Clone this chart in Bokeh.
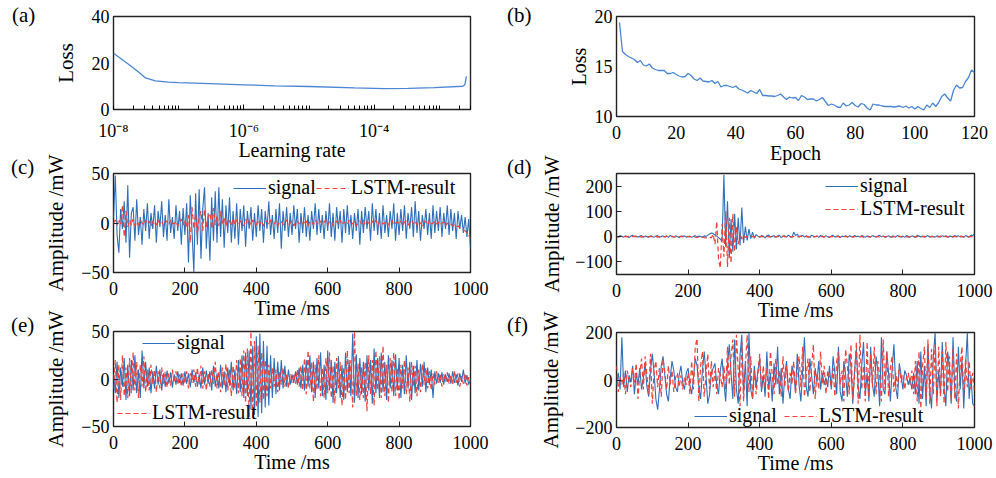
from bokeh.plotting import figure
from bokeh.layouts import column, row
from bokeh.models import (Range1d, FixedTicker, CustomJSTickFormatter, Div,
                          Legend, LegendItem)
from bokeh.embed import file_html
from bokeh.resources import INLINE

FONT = "Liberation Serif"
BLUE_LOSS = "#4a86d4"
BLUE = "#2e6fba"
RED = "#f0403a"

# ---------------- data ----------------
a_lr = [1e-8, 1.7e-8, 2.5e-8, 3.1e-8, 4.4e-8, 7e-8, 1e-7, 3e-7, 1e-6, 3e-6,
        1e-5, 5e-5, 1.4e-4, 3.3e-4, 8.3e-4, 2.3e-3, 2.45e-3, 2.6e-3]
a_loss = [24.2, 19.5, 15.8, 13.6, 12.3, 11.8, 11.6, 11.1, 10.6, 10.2,
          9.9, 9.3, 9.0, 9.1, 9.4, 10.0, 10.6, 14.2]

b_epoch = list(range(1, 121))
b_loss = [19.4, 16.5, 16.2, 16.0, 15.85, 15.7, 15.4, 15.6, 15.15, 15.05,
          15.25, 14.85, 14.7, 14.6, 14.6, 14.6, 14.3, 14.3, 14.4, 14.2,
          14.05, 13.95, 14.0, 14.3, 14.1, 13.75, 13.6, 13.85, 13.55, 13.5,
          13.45, 13.6, 13.3, 13.5, 12.95, 13.1, 13.1, 13.0, 12.9, 13.05,
          12.75, 12.65, 12.5, 12.35, 12.6, 12.45, 12.3, 12.7, 12.1, 12.1,
          12.05, 12.05, 12.0, 12.1, 12.25, 11.95, 11.7, 11.95, 11.85, 11.9,
          11.6, 12.1, 11.95, 11.7, 11.75, 11.75, 11.55, 11.7, 11.9, 11.5,
          11.1, 11.25, 11.15, 10.95, 10.9, 11.35, 11.05, 11.15, 11.4, 11.1,
          10.95, 11.3, 11.2, 10.85, 10.65, 11.25, 11.15, 11.15, 11.05, 11.0,
          11.0, 11.0, 10.95, 11.0, 11.05, 10.9, 11.05, 10.85, 11.0, 10.75,
          11.0, 10.8, 10.65, 11.15, 10.9, 11.35, 11.0, 11.4, 12.0, 12.25,
          11.85, 11.55, 12.65, 13.15, 12.85, 12.9, 13.5, 13.9, 14.65, 14.4]

t_ms = list(range(0, 1001, 5))

c_signal = [5, 48, -12, -30, 14, -6, 22, -20, 38, -35, 10, 16, -18, 24, -12, 6, -22, 14, -8, 20,
            -16, 10, -6, 18, -20, 12, -4, 22, -14, 8, -18, 24, -10, 6, -16, 18, -8, 12, -22, 15,
            -12, 20, -40, 28, -8, -50, 30, -22, 34, -36, 14, 36, -26, 10, -38, 26, -18, 32, -20, 36,
            -14, 24, -25, 18, -10, 26, -20, 12, -16, 20, -22, 14, -8, 18, -24, 12, -6, 16, -18, 10,
            -14, 18, -8, 14, -20, 12, -6, 22, -12, 8, -16, 14, -10, 20, -26, 12, -8, 16, -14, 10,
            -12, 18, -6, 14, -20, 10, -10, 16, -14, 8, -18, 12, -6, 20, -12, 14, -10, 8, -16, 12,
            -8, 20, -14, 10, -18, 16, -6, 12, -20, 14, -10, 18, -12, 8, -16, 10, -8, 14, -22, 12,
            -10, 16, -6, 12, -18, 20, -8, 14, -12, 10, -16, 18, -10, 8, -14, 12, -6, 20, -18, 10,
            -12, 14, -8, 18, -16, 10, -6, 16, -14, 22, -10, 12, -18, 8, -6, 14, -12, 10, -16, 18,
            -10, 12, -8, 16, -14, 10, -6, 18, -12, 14, -8, 10, -16, 12, -6, 8, -10, 6, -14, 4,
            -26]
c_lstm = [0, 3, -2, 4, -1, 18, -14, 12, -4, 3, -2, 4, -3, 1, -2, 3, 0, -2, 3, -1,
          2, -3, 2, 0, -2, 3, -1, 2, -3, 1, 2, -2, 3, 0, -1, 2, -3, 1, 4, -2,
          3, -4, 8, -20, 16, -6, 10, -12, 6, 12, -8, 14, -4, 6, 10, -6, 15, -2, 8, -3,
          12, -2, 6, -3, 4, 2, -3, 5, -1, 3, -2, 2, 0, -3, 4, -1, 2, -2, 3, 0,
          -2, 3, -1, 2, -3, 1, 2, -2, 3, 0, -1, 2, -3, 1, 2, -2, 1, 3, -2, 0,
          2, -3, 1, 2, -1, 3, -2, 0, 2, -3, 1, 2, -2, 3, 0, -1, 2, -2, 1, 3,
          -2, 1, 2, -3, 0, 2, -1, 3, -2, 1, 0, -2, 3, 1, -1, 2, -3, 0, 2, -1,
          3, -2, 1, 0, -2, 2, -1, 3, -3, 1, 2, -1, 0, 2, -2, 1, 3, -2, 0, 1,
          -1, 2, -3, 1, 2, -2, 0, 3, -1, 2, -2, 1, 0, -3, 2, 1, -2, 3, -1, 0,
          2, -1, 1, -2, 0, 1, -3, 0, -2, -1, -3, -2, -4, -3, -5, -6, -7, -8, -10, -12,
          -16]

d_signal = [2, -3, 4, 1, -2, 3, 0, -4, 2, 5, -1, 3, -2, 1, 4, -3, 2, 0, -2, 3,
            1, -3, 2, 4, -2, 0, 3, -1, 2, -3, 5, 1, -2, 3, 0, -4, 2, 1, 3, -2,
            0, 2, -3, 1, 4, -1, 2, 0, -2, 3, 1, 5, 10, 14, 12, 6, 2, -4, -10, -18,
            245, -40, 140, -85, 70, -60, 90, -50, 75, -35, 115, -25, 40, -15, 30, -8, 18, -6, 8, 2,
            -3, 4, 2, -5, 3, 6, -2, 1, 4, -3, 2, 5, -4, 1, 3, -2, 6, 0, -3, 18,
            4, 10, -3, 2, 5, -2, 3, 0, -4, 6, 2, -1, 3, -3, 5, 1, -2, 4, 0, -3,
            2, 5, -2, 1, 3, -4, 2, 0, 4, -2, 3, 1, -3, 5, 0, 2, -2, 4, 1, -3,
            3, 0, -2, 4, 1, -3, 2, 5, -1, 3, -2, 0, 4, -3, 2, 1, -2, 5, 0, -1,
            2, -3, 4, 1, -2, 3, 0, -4, 5, 2, -1, 3, -2, 1, 4, -3, 2, 0, -2, 3,
            1, -2, 3, 0, 4, -3, 2, 1, -2, 5, 0, 3, -1, 2, -3, 4, 1, -2, 6, 3,
            12]
d_lstm = [0, -1, 1, 0, -2, 1, 0, 1, -1, 0, 2, -1, 0, 1, -2, 0, 1, -1, 0, 1,
          -1, 0, 1, -2, 0, 1, 0, -1, 2, 0, -1, 1, 0, -2, 1, 0, 1, -1, 0, 1,
          0, -1, 1, 0, -2, -3, -1, 0, -2, -4, -5, -3, -1, -5, 10, -30, 60, -90, -125, 50,
          -80, 100, -120, 75, -105, 90, -60, 40, -30, 15, -10, 5, -3, 1, 0, -1, 1, 0, -2, 1,
          0, 1, -1, 0, 2, -1, 0, 1, -2, 0, 1, 0, -1, 2, 0, -1, 1, 0, -2, 1,
          0, -1, 1, 2, -1, 0, 1, -2, 0, 1, -1, 0, 2, -1, 0, 1, -1, 0, 1, -2,
          1, 0, -1, 1, 0, -2, 1, 0, 1, -1, 0, 2, -1, 0, 1, -1, 0, 1, -2, 0,
          1, -1, 0, 2, -1, 0, 1, -2, 0, 1, -1, 0, 1, 0, -2, 1, 0, -1, 2, 0,
          -1, 1, 0, -2, 1, 0, 1, -1, 0, 2, -1, 0, 1, -2, 0, 1, -1, 0, 1, 0,
          -1, 2, 0, -1, 1, 0, -2, 1, 0, 1, -1, 0, 2, -1, 0, 1, -2, 0, 1, -1,
          0]

e_signal = [5, -15, 18, -20, 12, -8, 22, -22, 15, -18, 20, -12, 25, -15, 10, -20, 30, -10, 18, -8,
            12, -15, 8, -10, 14, -6, 10, -12, 6, -8, 9, -5, 7, -9, 5, -6, 8, -4, 6, -7,
            8, -5, 6, -9, 10, -4, 7, -8, 5, -10, 12, -6, 9, -5, 8, -12, 14, -8, 6, -10,
            15, -10, 8, -14, 12, -7, 18, -12, 10, -16, 20, -14, 25, -20, 28, -18, 30, -32, 35, -38,
            45, -40, 48, -36, 40, -30, 35, -28, 25, -20, 22, -16, 18, -12, 20, -10, 14, -8, 10, -6,
            5, -4, 8, -6, 12, -10, 15, -12, 20, -8, 25, -14, 18, -20, 22, -10, 28, -18, 15, -22,
            30, -12, 20, -25, 18, -15, 24, -20, 15, -22, 28, -14, 20, -18, 48, -25, 26, -20, 22, -16,
            18, -24, 25, -12, 20, -26, 32, -15, 22, -20, 28, -14, 18, -22, 25, -10, 20, -18, 26, -12,
            22, -20, 15, -16, 25, -10, 18, -22, 14, -15, 20, -12, 16, -8, 18, -14, 12, -6, 10, -20,
            8, -5, 6, -4, 7, -6, 5, -3, 6, -5, 8, -4, 5, -7, 6, -3, 10, -5, 4, -6,
            0]
e_lstm = [-10, 20, -25, 15, -22, 25, -18, 12, -20, 22, -15, 28, -12, 18, -20, 15, -8, 24, -14, 10,
          -12, 15, -6, 10, -14, 8, -10, 12, -5, 8, -9, 6, -7, 10, -4, 8, -6, 5, -8, 6,
          -5, 8, -10, 6, -4, 10, -8, 12, -6, 14, -10, 8, -12, 6, -8, 10, -5, 18, -10, 8,
          -14, 12, -8, 16, -12, 10, -18, 14, -10, 20, -15, 22, -18, 30, -25, 32, -40, 50, -42, 40,
          -30, 35, -25, 28, -22, 20, -18, 15, -10, 12, -8, 10, -14, 8, -6, 12, -8, 6, -10, 5,
          -4, 6, -5, 10, -8, 14, -12, 22, -16, 30, -10, 18, -24, 15, -12, 25, -18, 12, -20, 22,
          -15, 28, -20, 14, -26, 22, -10, 18, -28, 12, -22, 30, -15, 20, -30, 50, -18, 16, -22, 12,
          -20, 18, -34, 25, -16, 20, -28, 30, -12, 24, -20, 35, -18, 15, -25, 22, -14, 28, -18, 12,
          -22, 15, -10, 20, -16, 12, -24, 18, -8, 14, -18, 10, -14, 16, -6, 12, -10, 8, -12, 6,
          -6, 8, -4, 6, -8, 5, -3, 7, -5, 4, -6, 9, -4, 6, -8, 3, -5, 6, -7, 2,
          -3]

f_signal = [-20, 30, -40, 180, -30, 40, -50, 20, -10, 60, -60, 30, -20, 50, -40, 10, 70, -30, -70, 40,
            110, 30, -80, -125, -40, 60, 100, 20, -60, -90, 10, 80, 40, -30, -50, 20, 60, -10, -40, 30,
            50, -20, -60, 10, 90, 60, -30, -80, 40, 120, 20, -100, -60, 30, 50, 70, -20, -60, 40, 90,
            -10, -90, 60, 150, 30, -80, 170, -40, -100, 100, 190, -60, 80, -110, 200, -40, -80, 60, -30, 40,
            90, -50, 20, -70, 120, -40, 30, -90, 70, -20, 140, -60, 50, -100, 20, 80, -40, -80, 60, 30,
            -50, 110, -20, -90, 40, 180, -30, -70, 90, 20, -60, 50, -10, 80, -40, 30, -20, 10, -30, 60,
            -40, 100, 30, -60, 140, -50, -90, 80, 20, -70, 110, 60, -100, 40, 130, -30, -80, 60, 160, -60,
            30, -90, 140, -20, -70, 100, 40, -110, 180, -40, -60, 120, 30, -90, 50, 150, -30, -80, 70, 20,
            -40, 40, 20, -20, 10, -40, 30, -60, 80, -100, 120, -80, 60, -110, 150, -40, -120, 100, 200, -90,
            40, -60, 160, -30, -110, 120, 50, -100, 180, -50, -90, 140, -40, 90, -120, 60, 200, -80, 20, -100,
            -110]
f_lstm = [60, -50, 10, -20, 30, -60, 40, 0, -30, 50, -10, 70, -80, 30, 90, -40, 100, 20, -60, 110,
          -100, 40, 80, -30, 50, -70, 90, 30, -40, 60, -20, 40, -50, 10, 30, -30, 20, -40, 10, -20,
          30, -60, 80, -40, 140, 175, -90, 60, 120, -70, 20, 110, -40, 80, -30, 40, -60, 50, 20, -30,
          60, -40, 140, -20, 100, 170, -70, 190, 40, -110, 160, -90, 60, 190, -50, 100, -80, 40, -60, 20,
          110, -40, 60, -30, 50, -80, 120, 20, -60, 90, -20, 40, -70, 100, -30, 60, -50, 30, -20, 80,
          -60, 40, 100, -30, 140, -70, 20, 90, -50, 60, 150, -80, 30, -40, 120, -20, 60, -60, 40, 10,
          -30, 50, -70, 80, 120, -20, 40, -90, 130, 60, -60, 150, -80, 20, 160, -100, 190, -40, 60, -90,
          160, -70, 110, -30, 140, -60, 80, 20, -90, 170, -40, 120, -70, 50, 100, -50, 30, -30, 60, -10,
          20, -40, 10, 30, -20, 40, -60, 80, -90, 120, -120, 60, 140, -80, 170, -100, 130, -60, 150, -110,
          140, -70, 120, -100, 160, -50, 100, -90, 130, -80, 110, -120, 60, 140, -70, 90, -30, 80, -40, 30,
          -50]

time_ticks = [0, 200, 400, 600, 800, 1000]
panel_names = ["(a)", "(b)", "(c)", "(d)", "(e)", "(f)"]
amp_label = "Amplitude /mW"
loss_label = "Loss"

# ---------------- helpers ----------------
MINUS_FMT = "return tick < 0 ? '\u2212' + (-tick) : String(tick);"
LOG_FMT = ("var e = Math.round(Math.log10(tick));"
           "var m = {'-':'\u207b','0':'\u2070','1':'\u00b9','2':'\u00b2','3':'\u00b3',"
           "'4':'\u2074','5':'\u2075','6':'\u2076','7':'\u2077','8':'\u2078','9':'\u2079'};"
           "return '10' + String(e).split('').map(function(c){return m[c];}).join('');")


def make_fig(w, h, left, right, top, bottom, xr, yr, x_type="linear"):
    p = figure(width=w, height=h, x_range=xr, y_range=yr, x_axis_type=x_type,
               output_backend="svg", toolbar_location=None,
               min_border_left=left, min_border_right=right,
               min_border_top=top, min_border_bottom=bottom)
    p.grid.visible = False
    p.outline_line_color = "#222222"
    p.outline_line_width = 1.4
    p.background_fill_color = "white"
    p.border_fill_color = "white"
    for ax in p.axis:
        ax.major_label_text_font = FONT
        ax.major_label_text_font_size = "18px"
        ax.major_label_text_color = "black"
        ax.axis_label_text_font = FONT
        ax.axis_label_text_font_size = "20px"
        ax.axis_label_text_font_style = "normal"
        ax.axis_label_text_color = "black"
        ax.major_tick_in = 5
        ax.major_tick_out = 0
        ax.minor_tick_in = 0
        ax.minor_tick_out = 0
        ax.major_tick_line_color = "#222222"
        ax.axis_line_color = None
        ax.major_label_standoff = 5
    p.yaxis.major_label_standoff = 4
    p.xaxis.major_label_standoff = 9
    p.xaxis.axis_label_standoff = -1
    return p


def side_div(width, panel_items, rotated_items):
    parts = ['<div style="position:relative; width:%dpx; height:478px; '
             'font-family:\'Liberation Serif\', serif; color:black;">' % width]
    for text, left, cy in panel_items:
        parts.append('<div style="position:absolute; left:%dpx; top:%dpx; font-size:21px; '
                     'line-height:22px; white-space:nowrap;">%s</div>' % (left, cy - 11, text))
    for text, cx, cy in rotated_items:
        parts.append('<div style="position:absolute; left:%.1fpx; top:%.1fpx; font-size:21px; '
                     'line-height:1; white-space:nowrap; '
                     'transform:translate(-50%%,-50%%) rotate(-90deg);">%s</div>'
                     % (cx, cy, text))
    parts.append('</div>')
    return Div(text="".join(parts), width=width, height=478, margin=(0, 0, 0, 0))


def make_legend(items, x, y, orientation="vertical", spacing=0):
    return Legend(items=items, location=(x, y), orientation=orientation,
                  label_text_font=FONT, label_text_font_size="20px",
                  label_text_color="black", glyph_width=33, glyph_height=20,
                  label_height=20, label_standoff=2, spacing=spacing, padding=0,
                  margin=0, border_line_color=None, background_fill_alpha=0)


def signal_fig(w, h, left, right, top, bottom, yr, yticks, sig, lstm):
    p = make_fig(w, h, left, right, top, bottom, Range1d(0, 1000), yr)
    r1 = p.line(t_ms, sig, line_color=BLUE, line_width=1.1)
    r2 = p.line(t_ms, lstm, line_color=RED, line_width=1.2, line_dash="5 3")
    p.xaxis.ticker = FixedTicker(ticks=time_ticks)
    p.yaxis.ticker = FixedTicker(ticks=yticks)
    p.yaxis.formatter = CustomJSTickFormatter(code=MINUS_FMT)
    p.xaxis.axis_label = "Time /ms"
    return p, r1, r2


LW, RW = 422, 432   # figure widths of the left and right columns

# ---------------- (a) ----------------
pa = make_fig(LW, 164, 33, 30, 16, 55, Range1d(1e-8, 3e-3), Range1d(0, 40), x_type="log")
pa.line(a_lr, a_loss, line_color=BLUE_LOSS, line_width=1.3)
pa.xaxis.ticker = FixedTicker(ticks=[1e-8, 1e-6, 1e-4],
                              minor_ticks=[m * 10.0 ** e for e in range(-8, -2)
                                           for m in range(1, 10) if m * 10.0 ** e <= 3e-3])
pa.xaxis.formatter = CustomJSTickFormatter(code=LOG_FMT)
pa.xaxis.minor_tick_in = 4
pa.xaxis.major_label_standoff = 11
pa.xaxis.axis_label_standoff = -5
pa.yaxis.ticker = FixedTicker(ticks=[0, 20, 40])
pa.yaxis.major_tick_in = 0
pa.xaxis.axis_label = "Learning rate"

# ---------------- (b) ----------------
pb = make_fig(RW, 168, 52, 22, 16, 52, Range1d(0, 120), Range1d(10, 20))
pb.line(b_epoch, b_loss, line_color=BLUE_LOSS, line_width=1.3)
pb.xaxis.ticker = FixedTicker(ticks=[0, 20, 40, 60, 80, 100, 120])
pb.yaxis.ticker = FixedTicker(ticks=[10, 15, 20])
pb.xaxis.major_tick_in = 0
pb.yaxis.major_tick_in = 0
pb.xaxis.axis_label = "Epoch"
pb.xaxis.axis_label_standoff = 0
pb.yaxis.axis_label = loss_label
pb.yaxis.axis_label_standoff = 2

# ---------------- (c) ----------------
pc, c1, c2 = signal_fig(LW, 158, 33, 30, 9, 50, Range1d(-50, 50), [-50, 0, 50],
                        c_signal, c_lstm)
pc.add_layout(make_legend([LegendItem(label="signal", renderers=[c1]),
                           LegendItem(label="LSTM-result", renderers=[c2])],
                          120, 73, "horizontal"))

# ---------------- (d) ----------------
pd_, d1, d2 = signal_fig(RW, 156, 52, 22, 5, 50, Range1d(-150, 250), [-100, 0, 100, 200],
                         d_signal, d_lstm)
pd_.add_layout(make_legend([LegendItem(label="signal", renderers=[d1]),
                            LegendItem(label="LSTM-result", renderers=[d2])],
                           209, 54, "vertical", spacing=-2))

# ---------------- (e) ----------------
pe, e1, e2 = signal_fig(LW, 156, 33, 30, 9, 52, Range1d(-50, 50), [-50, 0, 50],
                        e_signal, e_lstm)
pe.add_layout(make_legend([LegendItem(label="signal", renderers=[e1])], 29, 72))
pe.add_layout(make_legend([LegendItem(label="LSTM-result", renderers=[e2])], 4, 2))

# ---------------- (f) ----------------
pf, f1, f2 = signal_fig(RW, 154, 52, 22, 8, 51, Range1d(-200, 200), [-200, 0, 200],
                        f_signal, f_lstm)
pf.add_layout(make_legend([LegendItem(label="signal", renderers=[f1]),
                           LegendItem(label="LSTM-result", renderers=[f2])],
                          78, 0, "horizontal", spacing=7))

# ---------------- side texts (panel letters, rotated y titles) ----------------
left_div = side_div(78,
                    [(panel_names[0], 12, 15), (panel_names[2], 11, 167), (panel_names[4], 11, 325)],
                    [(loss_label, 66, 62.5), (amp_label, 56, 222.5), (amp_label, 56, 378.5)])
right_div = side_div(64,
                     [(panel_names[1], 7, 15), (panel_names[3], 7, 167), (panel_names[5], 7, 325)],
                     [(amp_label, 52, 223.5), (amp_label, 51, 379.5)])

layout = row(left_div, column(pa, pc, pe), right_div, column(pb, pd_, pf))

with open("out.html", "w", encoding="utf-8") as fh:
    fh.write(file_html(layout, INLINE))
